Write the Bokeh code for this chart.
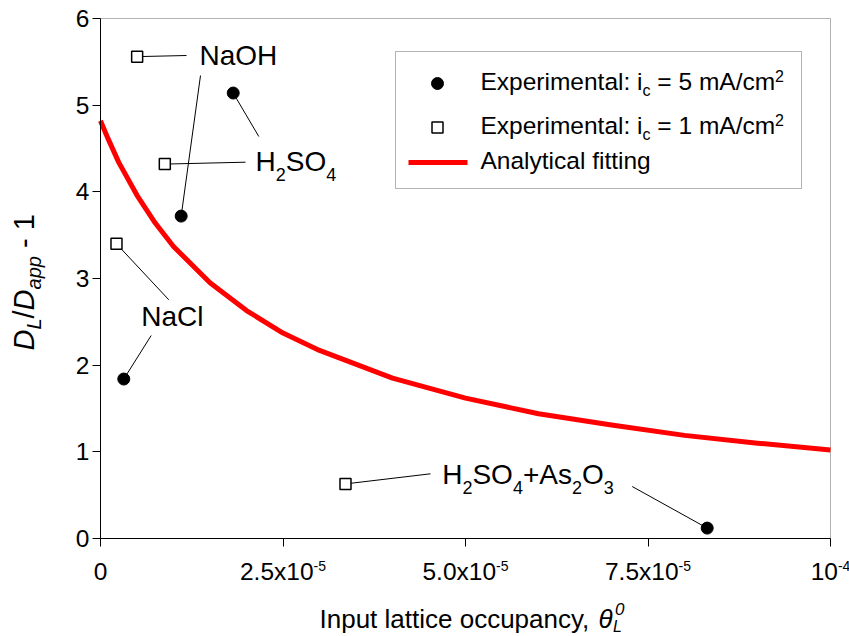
import math
from bokeh.plotting import figure
from bokeh.models import Label, BoxAnnotation, FixedTicker, LinearAxis
from bokeh.embed import file_html
from bokeh.resources import INLINE

# ---------------- data ----------------
fit_theta = [0.0, 0.05e-5, 0.1e-5, 0.25e-5, 0.5e-5, 0.75e-5, 1.0e-5, 1.5e-5, 2.0e-5,
             2.5e-5, 3.0e-5, 4.0e-5, 5.0e-5, 6.0e-5, 7.0e-5, 8.0e-5, 9.0e-5, 1.0e-4]
fit_d = [4.82, 4.72, 4.62, 4.34, 3.96, 3.64, 3.37, 2.95, 2.63,
         2.37, 2.17, 1.85, 1.62, 1.44, 1.31, 1.19, 1.10, 1.02]

# Experimental, i_c = 5 mA/cm2 (filled circles): NaCl, NaOH, H2SO4, H2SO4+As2O3
circ_theta = [0.319e-5, 1.105e-5, 1.818e-5, 8.311e-5]
circ_d = [1.84, 3.72, 5.14, 0.12]
# Experimental, i_c = 1 mA/cm2 (open squares): NaCl, NaOH, H2SO4, H2SO4+As2O3
sq_theta = [0.219e-5, 0.502e-5, 0.881e-5, 3.356e-5]
sq_d = [3.40, 5.56, 4.32, 0.63]

x_ticks = [0.0, 2.5e-5, 5.0e-5, 7.5e-5, 1.0e-4]
x_tick_base = ["0", "2.5x10", "5.0x10", "7.5x10", "10"]
x_tick_sup = ["", "-5", "-5", "-5", "-4"]
y_ticks = [0, 1, 2, 3, 4, 5, 6]

# ---------------- layout ----------------
W_, H_ = 849, 636
FL, FT, FW, FH = 100, 18, 730, 520
X0, X1, Y0, Y1 = 0.0, 1e-4, 0.0, 6.0
FONT = "Liberation Sans"


def X(px):
    return X0 + (px - FL) / FW * (X1 - X0)


def Y(py):
    return Y0 + (FT + FH - py) / FH * (Y1 - Y0)


def DX(dpx):
    return dpx / FW * (X1 - X0)


CW = {' ': .278, '+': .584, ',': .278, '-': .333, '.': .278, '/': .278, ':': .278,
      '=': .584, 'A': .667, 'C': .722, 'D': .722, 'E': .667, 'H': .722, 'I': .278,
      'L': .556, 'N': .722, 'O': .778, 'S': .667, 'a': .556, 'c': .5, 'e': .556,
      'f': .278, 'g': .556, 'i': .222, 'l': .222, 'm': .833, 'n': .556, 'o': .556,
      'p': .556, 'r': .333, 's': .5, 't': .278, 'u': .556, 'x': .5, 'y': .5,
      'θ': .556}


def tw(s, size):
    return sum(CW.get(ch, .556) for ch in s) * size


BL = 0.4  # empirical baseline correction (fraction of font size)

# The frame spans the whole canvas; the plotting area is bounded by the axes.
p = figure(width=W_, height=H_, frame_width=W_, frame_height=H_,
           x_range=(X(0), X(W_)), y_range=(Y(H_), Y(0)), title=None,
           x_axis_location=None, y_axis_location=None,
           output_backend="svg", toolbar_location=None,
           min_border_left=0, min_border_top=0, min_border_right=0, min_border_bottom=0)
p.outline_line_color = None
p.background_fill_color = "white"
p.border_fill_color = "white"
p.grid.grid_line_color = None
p.grid.visible = False

xax = LinearAxis(fixed_location=Y0, bounds=(X0, X1), ticker=FixedTicker(ticks=x_ticks))
xax.major_label_text_color = None
xax.major_label_text_font_size = "0px"
yax = LinearAxis(fixed_location=X0, bounds=(Y0, Y1), ticker=FixedTicker(ticks=y_ticks))
yax.major_label_text_font = FONT
yax.major_label_text_font_size = "24.5px"
yax.major_label_text_color = "black"
yax.major_label_standoff = 3
for ax in (xax, yax):
    ax.axis_line_color = "black"
    ax.axis_line_width = 1
    ax.major_tick_line_color = "black"
    ax.major_tick_out = 8
    ax.major_tick_in = 0
    ax.minor_tick_line_color = None
p.add_layout(xax, "below")
p.add_layout(yax, "left")

# frame box (top and right edges)
p.add_layout(BoxAnnotation(left=X0, right=X1, bottom=Y0, top=Y1, fill_color=None,
                           line_color="black", line_width=1, level="underlay"))


def rich(x0, base, segs, angle=0.0):
    pos = x0
    for text, size, dy, style in segs:
        lead = len(text) - len(text.lstrip(" "))
        shown = text.strip(" ")
        start = pos + (tw(" " * lead, size) if angle == 0 else -tw(" " * lead, size))
        b = base + dy - BL * size
        if angle == 0:
            lab = Label(x=X(start), y=Y(b), text=shown)
            pos += tw(text, size)
        else:
            lab = Label(x=X(b), y=Y(start), text=shown, angle=angle)
            pos -= tw(text, size)
        lab.text_font = FONT
        lab.text_font_size = f"{size}px"
        lab.text_font_style = style
        lab.text_color = "black"
        lab.text_align = "left"
        lab.text_baseline = "alphabetic"
        p.add_layout(lab)
    return pos


# ---------------- leader lines ----------------
circ_anchor = [(150.7, 335), (200, 75), (258.3, 136), (631.7, 486)]
sq_anchor = [(168.3, 299.3), (186, 55), (245, 161.7), (430, 473.3)]
p.segment(x0=circ_theta, y0=circ_d,
          x1=[X(a[0]) for a in circ_anchor], y1=[Y(a[1]) for a in circ_anchor],
          line_color="black", line_width=1)
p.segment(x0=sq_theta, y0=sq_d,
          x1=[X(a[0]) for a in sq_anchor], y1=[Y(a[1]) for a in sq_anchor],
          line_color="black", line_width=1)

# ---------------- data marks ----------------
p.line(fit_theta, fit_d, line_color="#ff0000", line_width=5, line_join="round")
p.scatter(circ_theta, circ_d, marker="circle", size=12,
          fill_color="black", line_color="black")
p.scatter(sq_theta, sq_d, marker="square", size=11,
          fill_color="white", line_color="black", line_width=1.5)

# ---------------- annotations ----------------
A, S = 28, 18
rich(199, 65.7, [("NaOH", A, 0, "normal")])
rich(140.7, 327.3, [("NaCl", A, 0, "normal")])
rich(255, 171.7, [("H", A, 0, "normal"), ("2", S, 9, "normal"),
                  ("SO", A, 0, "normal"), ("4", S, 9, "normal")])
rich(441.7, 485, [("H", A, 0, "normal"), ("2", S, 9, "normal"),
                  ("SO", A, 0, "normal"), ("4", S, 9, "normal"),
                  ("+As", A, 0, "normal"), ("2", S, 9, "normal"),
                  ("O", A, 0, "normal"), ("3", S, 9, "normal")])

# ---------------- legend ----------------
p.add_layout(BoxAnnotation(left=X(395), right=X(801), top=Y(51), bottom=Y(188),
                           fill_color=None, line_color="black", line_width=1,
                           level="underlay"))
p.scatter([X(437)], [Y(83)], marker="circle", size=12,
          fill_color="black", line_color="black")
p.scatter([X(437)], [Y(127)], marker="square", size=11,
          fill_color="white", line_color="black", line_width=1.5)
p.line([X(408), X(467)], [Y(162), Y(162)], line_color="#ff0000", line_width=5)
T, s = 24.5, 16
rich(480, 90.7, [("Experimental: i", T, 0, "normal"), ("c", s, 6, "normal"),
                 (" = 5 mA/cm", T, 0, "normal"), ("2", s, -9, "normal")])
rich(480, 134.5, [("Experimental: i", T, 0, "normal"), ("c", s, 6, "normal"),
                  (" = 1 mA/cm", T, 0, "normal"), ("2", s, -9, "normal")])
rich(480, 170, [("Analytical fitting", T, 0, "normal")])

# ---------------- x tick labels ----------------
TS = 14
for t, b, sup in zip(x_ticks, x_tick_base, x_tick_sup):
    wb, ws = tw(b, 24.5), tw(sup, TS)
    xr = t + DX((wb + ws) / 2 - ws)
    p.add_layout(Label(x=xr, y=Y(581 - BL * 24.5), text=b, text_align="right",
                       text_baseline="alphabetic", text_font=FONT,
                       text_font_size="24.5px", text_color="black"))
    if sup:
        p.add_layout(Label(x=xr, y=Y(571 - BL * TS), text=sup, text_align="left",
                           text_baseline="alphabetic", text_font=FONT,
                           text_font_size=f"{TS}px", text_color="black"))

# ---------------- axis titles ----------------
pos = rich(319, 629, [("Input lattice occupancy, ", 26, 0, "normal"),
                      ("θ", 26, 0, "italic")])
rich(pos, 629, [("L", 16, 3, "italic")])
rich(pos + 2, 629, [("0", 17, -14, "italic")])

rich(350, 35, [("D", 29, 0, "italic"), ("L", 20, 6, "italic"),
               ("/", 29, 0, "normal"), ("D", 29, 0, "italic"),
               ("app", 20, 6, "italic"), (" - 1", 29, 0, "normal")],
     angle=math.pi / 2)

open("out.html", "w").write(file_html(p, INLINE))
